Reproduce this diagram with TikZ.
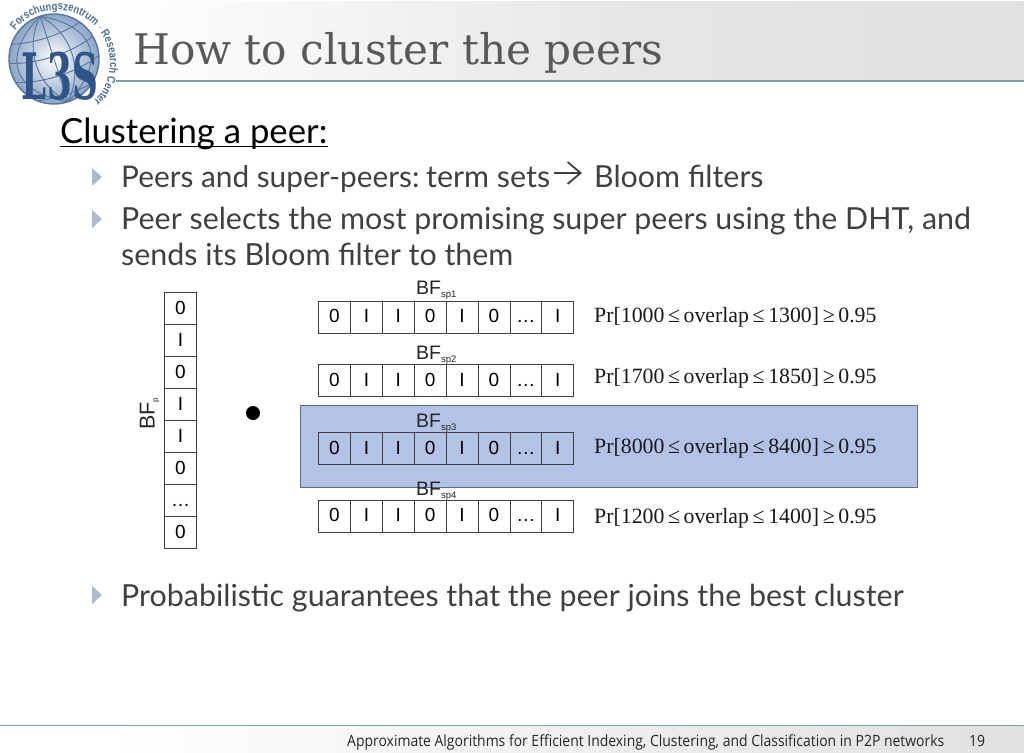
\documentclass[tikz,border=0pt]{standalone}
\usepackage{fontspec}
\usepackage{xcolor}
\setmainfont{Lato}
\newfontfamily\titlefont{DejaVu Serif}
\newfontfamily\figfont{Liberation Sans}
\newfontfamily\logofont[FakeStretch=0.82]{Liberation Sans}
\newfontfamily\prfont{Liberation Serif}
\newfontfamily\footfont[FakeStretch=0.90]{Open Sans}
\usetikzlibrary{arrows.meta,positioning,decorations.text}
\definecolor{bodygray}{HTML}{404040}
\definecolor{titlegray}{HTML}{595959}
\definecolor{rulegray}{HTML}{7F9CAB}
\definecolor{bulletblue}{HTML}{A9BBD0}
\definecolor{clusterblue}{HTML}{B4C2E7}
\definecolor{clusterline}{HTML}{5A6B8C}
\definecolor{logoblue}{HTML}{2F5488}
\definecolor{globeblue}{HTML}{8BA5C6}
\begin{document}
\begin{tikzpicture}[x=1pt,y=-1pt,node distance=32pt,
  bit cell/.style={rectangle,draw=black!75,line width=0.9pt,minimum size=32pt,inner sep=0pt,outer sep=0pt,text height=14pt,text depth=3pt,font=\figfont\fontsize{19}{20}\selectfont},
  bf label/.style={inner sep=0pt,anchor=base west,font=\figfont\fontsize{19.5}{22}\selectfont,text=black!85},
  pr label/.style={inner sep=0pt,anchor=base west,font=\prfont\fontsize{21.8}{24}\selectfont,text=black!90},
  body text/.style={inner sep=0pt,anchor=base west,text=bodygray,font=\fontsize{30.4}{34}\selectfont},
  tick bullet/.style={fill=bulletblue,draw=none}]
  \useasboundingbox (0,0) rectangle (1024,752);
  % header and footer bands
  \shade[left color=white,right color=black!10] (110,2) rectangle (640,80);
  \shade[left color=black!10,right color=black!12] (640,2) rectangle (1024,80);
  \shade[left color=white,right color=black!12] (110,726) rectangle (1024,752);
  \draw[rulegray,line width=1.2pt] (116,81) -- (1024,81);
  \draw[rulegray,line width=1.2pt] (0,725.5) -- (1024,725.5);
  % logo
  \shade[inner color=white,outer color=globeblue,draw=none] (54,59) circle (45);
  \begin{scope}
    \clip (54,59) circle (45);
    \foreach \bend in {-50,-25,0,25,50}
      \draw[logoblue!80,line width=0.9pt,rotate around={18:(54,59)}] (54,14) .. controls (54+\bend,40) and (54+\bend,78) .. (54,104);
    \foreach \bend in {-20,0,20,40}
      \draw[logoblue!80,line width=0.9pt,rotate around={18:(54,59)}] (9,59+\bend-10) .. controls (35,59+\bend) and (73,59+\bend) .. (99,59+\bend-10);
  \end{scope}
  \draw[logoblue!80,line width=1.4pt] (54,59) circle (45);
  \node[inner sep=0pt,anchor=base,text=logoblue,font=\titlefont\bfseries\fontsize{64}{64}\selectfont] (logo_text) at (60,99) {\scalebox{0.56}[1]{L3S}};
  \path[decorate,decoration={text along path,raise=0pt,
    text={|\logofont\bfseries\fontsize{11.5}{13}\selectfont\color{logoblue!85}|Forschungszentrum {$\cdot$} Research Center}}]
    (57,63) ++(-142:53) arc[start angle=-142,end angle=75,radius=53];
  % title
  \node[inner sep=0pt,anchor=base west,text=titlegray,font=\titlefont\fontsize{42.2}{46}\selectfont] (title) at (133,64) {How to cluster the peers};
  % text
  \node[inner sep=0pt,anchor=base west,text=black,font=\fontsize{34.7}{38}\selectfont] (clustering) at (60,143) {Clustering a peer:};
  \draw[black,line width=1.3pt] (60,146.5) -- (328,146.5);
  \fill[tick bullet] (92,168) -- (102,177) -- (92,186) -- cycle;
  \fill[tick bullet] (92,210) -- (102,219) -- (92,228) -- cycle;
  \fill[tick bullet] (92,586) -- (102,595) -- (92,604) -- cycle;
  \node[body text,font=\fontsize{29.8}{34}\selectfont] (peers) at (121,187) {Peers and super-peers:};
  \node[body text] (term_sets) at (426,187) {term sets};
  \node[body text] (bloom) at (594,187) {Bloom filters};
  \draw[-{Straight Barb[length=13pt,width=22pt]},bodygray,line width=1.8pt,shorten >=12pt,shorten <=4pt]
    ([yshift=14pt]term_sets.base east) -- ([yshift=14pt]bloom.base west);
  \node[body text] (selects) at (121,229) {Peer selects the most promising super peers using the DHT, and};
  \node[body text] (sends) at (121,265) {sends its Bloom filter to them};
  \node[body text] (guarantee) at (121,606) {Probabilistic guarantees that the peer joins the best cluster};
  % highlighted cluster
  \node[rectangle,draw=clusterline,line width=1pt,fill=clusterblue,minimum width=617pt,minimum height=82pt,inner sep=0pt] (cluster) at (609,446) {};
  \node[circle,fill=black,minimum size=14pt,inner sep=0pt] (dot) at (253,413) {};
  % peer filter
  \node[bit cell] (p_1) at (180.5,308.5) {0};
  \foreach \b/\prev [count=\i from 2] in {I/1,0/2,I/3,I/4,0/5,…/6,0/7}
    \node[bit cell,below of=p_\prev] (p_\i) {\b};
  \node[rotate=90,inner sep=0pt,anchor=base west,font=\figfont\fontsize{21.5}{24}\selectfont,text=black!85] (bf_p) at (154.5,430) {BF\raisebox{-0.3ex}{\fontsize{8}{9}\selectfont p}};
  % super-peer filters
  \foreach \r/\ypos/\ylab in {1/317.25/294.5,2/380.75/359.5,3/448.5/427,4/516.25/495}{
    \node[bit cell,minimum width=31.9pt] (sp\r_1) at (334.5,\ypos) {0};
    \foreach \b/\prev [count=\i from 2] in {I/1,I/2,0/3,I/4,0/5,…/6,I/7}
      \node[bit cell,minimum width=31.9pt,node distance=31.9pt,right of=sp\r_\prev] (sp\r_\i) {\b};
    \node[bf label] (bf_sp\r) at (416,\ylab) {BF\raisebox{-0.3ex}{\fontsize{9.5}{10}\selectfont sp\r}};
  }
  \node[pr label] (pr_1) at (594,322) {Pr[1000\,≤\,overlap\,≤\,1300]\,≥\,0.95};
  \node[pr label] (pr_2) at (594,383) {Pr[1700\,≤\,overlap\,≤\,1850]\,≥\,0.95};
  \node[pr label] (pr_3) at (594,453) {Pr[8000\,≤\,overlap\,≤\,8400]\,≥\,0.95};
  \node[pr label] (pr_4) at (594,523) {Pr[1200\,≤\,overlap\,≤\,1400]\,≥\,0.95};
  % footer
  \node[inner sep=0pt,anchor=base west,text=black!85,font=\footfont\fontsize{15.5}{17}\selectfont] (foot) at (347,746) {Approximate Algorithms for Efficient Indexing, Clustering, and Classification in P2P networks};
  \node[inner sep=0pt,anchor=base west,text=black!85,font=\footfont\fontsize{15.5}{17}\selectfont] (page) at (969,746) {19};
\end{tikzpicture}
\end{document}
